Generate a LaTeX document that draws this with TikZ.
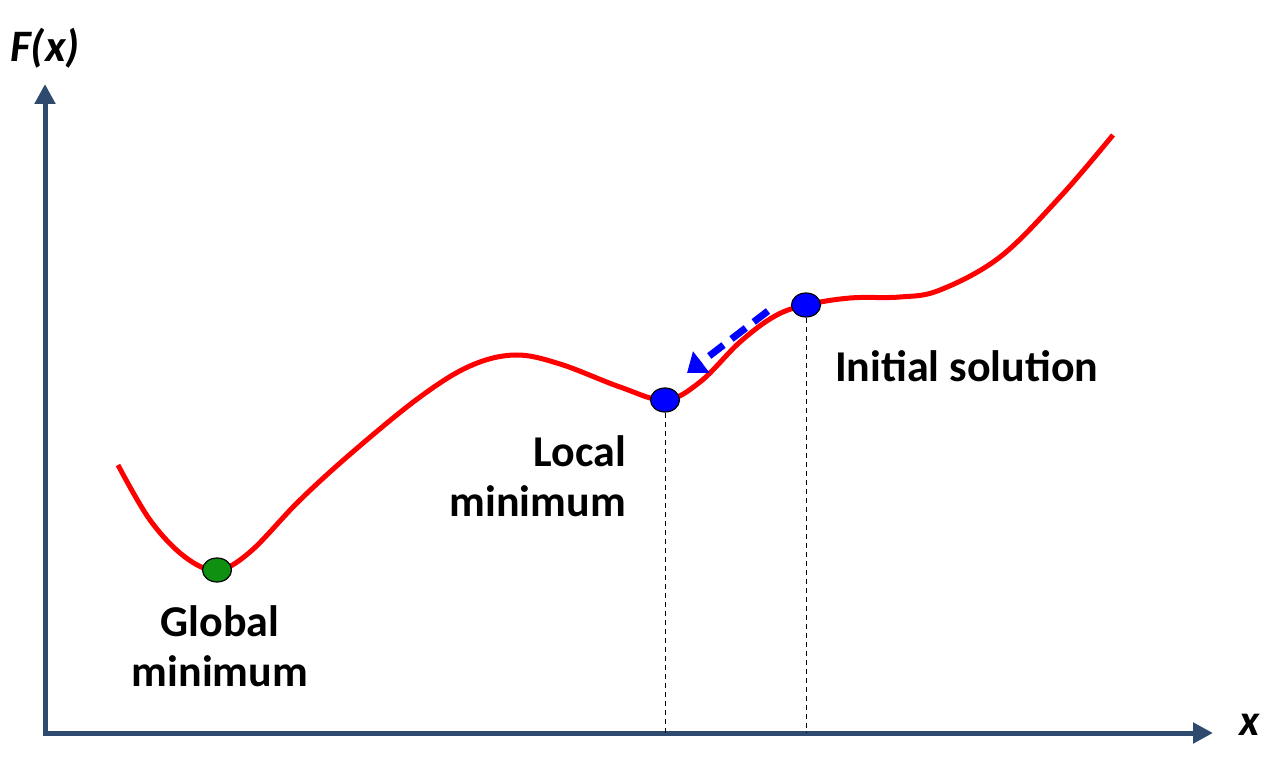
\documentclass[tikz,border=0pt]{standalone}
\usepackage{fontspec}
\setmainfont{Carlito}
\usetikzlibrary{arrows.meta}
\definecolor{axisblue}{HTML}{2E4A6E}
\definecolor{dotgreen}{HTML}{109010}
\tikzset{
  axis/.style={line width=5pt, color=axisblue, -{Triangle[width=20pt,length=20pt]}},
  curve/.style={line width=5pt, color=red},
  guide/.style={line width=1pt, dashed, dash pattern=on 5pt off 4pt},
  dot/.style={ellipse, draw=black, line width=1.2pt, minimum width=29pt, minimum height=24pt, inner sep=0pt},
  lbl/.style={font=\fontsize{44}{50}\selectfont\bfseries, align=center, inner sep=0pt},
}
\usetikzlibrary{shapes.geometric}
\begin{document}
\begin{tikzpicture}[x=1pt,y=-1pt]
\useasboundingbox (0,0) rectangle (1278,759);
\coordinate (O) at (45,733);
\coordinate (Ytip) at (45,84);
\coordinate (Xtip) at (1213,733);
\draw[axis] (45,735.5) -- (Ytip);
\draw[axis] (42.5,733) -- (Xtip);
\node[lbl, font=\fontsize{45}{40}\selectfont\bfseries\itshape] (fx) at (45,48) {F(x)};
\node[lbl, font=\fontsize{44}{40}\selectfont\bfseries\itshape] (xl) at (1250,725) {x};
\draw[curve] plot[smooth, tension=0.6] coordinates {(118,465) (150,520) (185,557) (217,570) (250,552) (300,500) (355,450) (420,397) (470,366) (515,355) (560,364) (620,387) (665,400) (700,382) (740,342) (775,316) (806,305) (850,298) (900,297) (940,290) (1000,257) (1060,197) (1113,135)};
\node[dot, fill=dotgreen] (gmin) at (217,570) {};
\node[dot, fill=blue] (lmin) at (665,400) {};
\node[dot, fill=blue] (init) at (806,305) {};
\coordinate (lbase) at (665,733);
\coordinate (ibase) at (806,733);
\draw[guide] (lmin.south) -- (lbase);
\draw[guide] (init.south) -- (ibase);
\coordinate (ds) at (768,311);
\coordinate (de) at (687,373);
\draw[blue, line width=7pt, dash pattern=on 18pt off 10pt, -{Triangle[width=26pt,length=18pt]}] (ds) -- (de);
\node[lbl, align=right, anchor=east] (ltxt) at (626,476) {Local\\minimum};
\node[lbl] (gtxt) at (220,646) {Global\\minimum};
\node[lbl, anchor=west] (itxt) at (835,366) {Initial solution};
\end{tikzpicture}
\end{document}
